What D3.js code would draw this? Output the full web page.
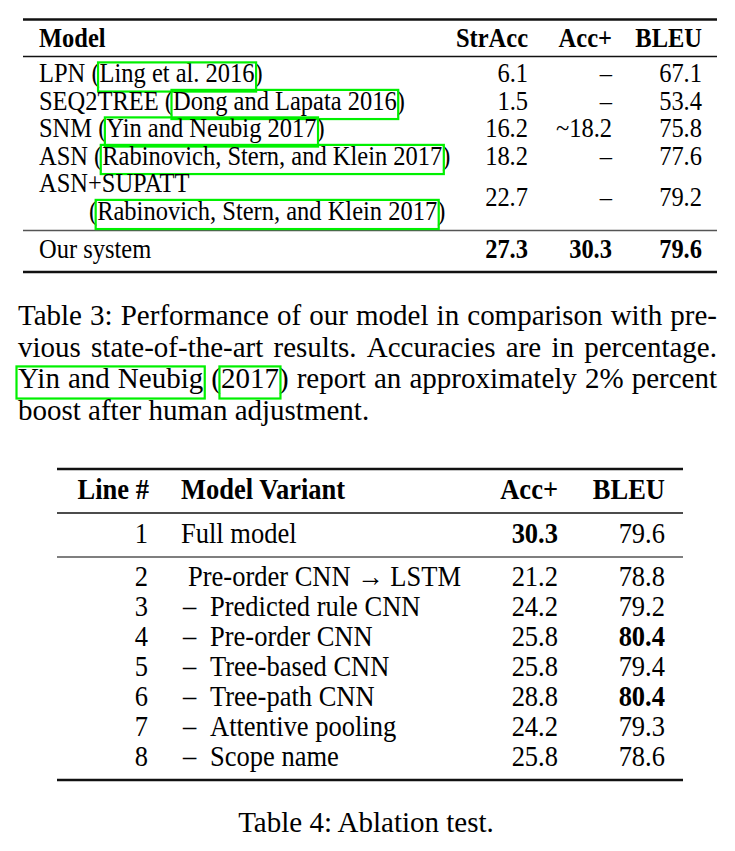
<!DOCTYPE html>
<html><head><meta charset="utf-8">
<script src="https://cdn.jsdelivr.net/npm/d3@7"></script>
<style>
body{margin:0;background:#fff}
svg{display:block}
text{font-family:"Liberation Serif","Times New Roman",Times,serif;fill:#000}
</style>
</head><body>
<svg id="c" width="735" height="851"></svg>
<script>
// ---------- Table 3 data ----------
const t3Columns = ["StrAcc", "Acc+", "BLEU"];
const t3Models = ["LPN", "SEQ2TREE", "SNM", "ASN", "ASN+SUPATT", "Our system"];
const t3Cites = ["Ling et al. 2016", "Dong and Lapata 2016", "Yin and Neubig 2017",
                 "Rabinovich, Stern, and Klein 2017", "Rabinovich, Stern, and Klein 2017", null];
const t3StrAcc = [6.1, 1.5, 16.2, 18.2, 22.7, 27.3];
const t3AccPlus = [null, null, 18.2, null, null, 30.3];
const t3AccApprox = [false, false, true, false, false, false];
const t3Bleu = [67.1, 53.4, 75.8, 77.6, 79.2, 79.6];
const caption3Lines = [
  "Table 3: Performance of our model in comparison with pre-",
  "vious state-of-the-art results. Accuracies are in percentage.",
  "Yin and Neubig (2017) report an approximately 2% percent",
  "boost after human adjustment."
];
const caption3Cites = [[], [], ["Yin and Neubig", "2017"], []];

// ---------- Table 4 data ----------
const t4Columns = ["Line #", "Model Variant", "Acc+", "BLEU"];
const t4Lines = [1, 2, 3, 4, 5, 6, 7, 8];
const t4Variants = ["Full model", "Pre-order CNN \u2192 LSTM", "\u2013 Predicted rule CNN",
  "\u2013 Pre-order CNN", "\u2013 Tree-based CNN", "\u2013 Tree-path CNN",
  "\u2013 Attentive pooling", "\u2013 Scope name"];
const t4Acc = [30.3, 21.2, 24.2, 25.8, 25.8, 28.8, 24.2, 25.8];
const t4Bleu = [79.6, 78.8, 79.2, 80.4, 79.4, 80.4, 79.3, 78.6];
const caption4 = "Table 4: Ablation test.";

// ---------- drawing ----------
const svg = d3.select("#c");
const GREEN = "#00f000";
const fmt = d3.format(".1f");
const SY = 1.08; // glyphs in the reference are slightly taller than wide

function txt(g, x, y, str, fs, opt) {
  opt = opt || {};
  const t = g.append("text")
    .attr("transform", `translate(${x},${y}) scale(1,${opt.sy || SY})`)
    .attr("font-size", fs).text(str);
  if (opt.bold) t.attr("font-weight", "bold");
  if (opt.anchor) t.attr("text-anchor", opt.anchor);
  return t;
}
function rule(g, x1, x2, y, w, col) {
  g.append("line").attr("x1", x1).attr("x2", x2).attr("y1", y).attr("y2", y)
    .attr("stroke", col || "#111").attr("stroke-width", w);
}
function box(g, x, w, base, fs) {
  g.append("rect").attr("x", x - 1.5).attr("y", base - 0.8 * fs)
    .attr("width", w + 3).attr("height", 1.19 * fs)
    .attr("fill", "none").attr("stroke", GREEN).attr("stroke-width", 2.2);
}

// ===== Table 3 =====
const fs3 = 24.5;
const g3 = svg.append("g");
const x3 = d3.scaleOrdinal().domain(t3Columns).range([528, 612, 702]);
const y3 = d3.scaleLinear().domain([0, 1]).range([82, 109.5]);
const rowLine3 = [0, 1, 2, 3, 4, 6.4];   // layout slot of each row
const L3 = 23, R3 = 717;

rule(g3, L3, R3, 19.5, 2.4);
rule(g3, L3, R3, 56.5, 1.4);
rule(g3, L3, R3, 230.5, 1.6, "#555");
rule(g3, L3, R3, 272, 2.4);

txt(g3, 39, 47, "Model", fs3, {bold: true});
t3Columns.forEach(c => txt(g3, x3(c), 47, c, fs3, {bold: true, anchor: "end"}));

const maxStr = d3.max(t3StrAcc), maxAcc = d3.max(t3AccPlus.filter(v => v != null)), maxBleu = d3.max(t3Bleu);

t3Models.forEach((m, i) => {
  const twoLine = m === "ASN+SUPATT";
  const yb = y3(rowLine3[i]);
  const cite = t3Cites[i];
  if (cite && !twoLine) {
    const str = m + " (" + cite + ")";
    const node = txt(g3, 39, yb, str, fs3).node();
    const s = str.indexOf(cite);
    const x0 = 39 + node.getSubStringLength(0, s);
    const w = node.getSubStringLength(s, cite.length);
    box(g3, x0, w, yb, fs3);
  } else if (twoLine) {
    txt(g3, 39, yb, m, fs3);
    const y2 = y3(rowLine3[i] + 1);
    const str = "(" + cite + ")";
    const node = txt(g3, 89, y2, str, fs3).node();
    const x0 = 89 + node.getSubStringLength(0, 1);
    const w = node.getSubStringLength(1, cite.length);
    box(g3, x0, w, y2, fs3);
  } else {
    txt(g3, 39, yb, m, fs3);
  }
  const ny = twoLine ? y3(rowLine3[i] + 0.5) : yb;
  const cells = [
    [fmt(t3StrAcc[i]), t3StrAcc[i] === maxStr],
    [t3AccPlus[i] == null ? "\u2013" : (t3AccApprox[i] ? "~" : "") + fmt(t3AccPlus[i]),
      t3AccPlus[i] === maxAcc && !t3AccApprox[i]],
    [fmt(t3Bleu[i]), t3Bleu[i] === maxBleu]
  ];
  cells.forEach((c, j) => txt(g3, x3(t3Columns[j]), ny, c[0], fs3, {bold: c[1], anchor: "end"}));
});

// ===== Caption 3 (justified) =====
const fsC = 29;
const capL = 18, capR = 717;
const yCap = d3.scaleLinear().domain([0, 1]).range([325, 356.5]);
const gc = svg.append("g");
const meas = gc.append("text").attr("font-size", fsC).attr("x", -1000).attr("y", -1000);
function mw(s) { meas.text(s); return meas.node().getComputedTextLength(); }
const spaceW = mw("a b") - mw("ab");
caption3Lines.forEach((line, li) => {
  const words = line.split(" ");
  const widths = words.map(mw);
  const justify = li < caption3Lines.length - 1;
  const total = d3.sum(widths);
  const gap = justify ? (capR - capL - total) / (words.length - 1) : spaceW;
  let x = capL;
  const yb = yCap(li);
  const pos = [];
  words.forEach((w, k) => {
    txt(gc, x, yb, w, fsC, {sy: 1.04});
    pos.push(x);
    x += widths[k] + gap;
  });
  caption3Cites[li].forEach(c => {
    const cw = c.split(" ");
    for (let k = 0; k < words.length; k++) {
      const clean = words[k].replace(/[()]/g, "");
      if (clean === cw[0]) {
        const pre = words[k].indexOf(cw[0]);
        const xs = pos[k] + (pre > 0 ? mw(words[k].slice(0, pre)) : 0);
        const last = k + cw.length - 1;
        const lw = words[last];
        const lastIdx = lw.indexOf(cw[cw.length - 1]);
        const xe = pos[last] + mw(lw.slice(0, lastIdx + cw[cw.length - 1].length));
        box(gc, xs, xe - xs, yb, fsC * 0.93);
        break;
      }
    }
  });
});
meas.remove();

// ===== Table 4 =====
const fs4 = 26.5;
const g4 = svg.append("g");
const x4 = d3.scaleOrdinal().domain(t4Columns).range([149, 181, 558, 665]);
const y4 = d3.scaleLinear().domain([2, 3]).range([586, 616]);
const L4 = 57, R4 = 683;
rule(g4, L4, R4, 469, 2.4);
rule(g4, L4, R4, 513, 1.4);
rule(g4, L4, R4, 557, 1.6, "#555");
rule(g4, L4, R4, 780, 2.4);

t4Columns.forEach((c, j) => txt(g4, x4(c), 499, c, fs4, {bold: true, anchor: j === 1 ? "start" : "end"}));

const maxAcc4 = d3.max(t4Acc), maxBleu4 = d3.max(t4Bleu);
t4Lines.forEach((ln, i) => {
  const yb = ln === 1 ? 543 : y4(ln);
  txt(g4, x4("Line #") - 1, yb, ln, fs4, {anchor: "end"});
  const v = t4Variants[i];
  const xv = x4("Model Variant");
  if (v[0] === "\u2013") {
    txt(g4, xv + 2, yb, "\u2013", fs4);
    txt(g4, xv + 29, yb, v.slice(2), fs4);
  } else {
    txt(g4, xv + (i > 0 ? 7 : 0), yb, v, fs4);
  }
  txt(g4, x4("Acc+"), yb, fmt(t4Acc[i]), fs4, {anchor: "end", bold: t4Acc[i] === maxAcc4});
  txt(g4, x4("BLEU"), yb, fmt(t4Bleu[i]), fs4, {anchor: "end", bold: t4Bleu[i] === maxBleu4});
});

txt(svg, 366, 832, caption4, fsC, {anchor: "middle", sy: 1.04});
</script>
</body></html>
